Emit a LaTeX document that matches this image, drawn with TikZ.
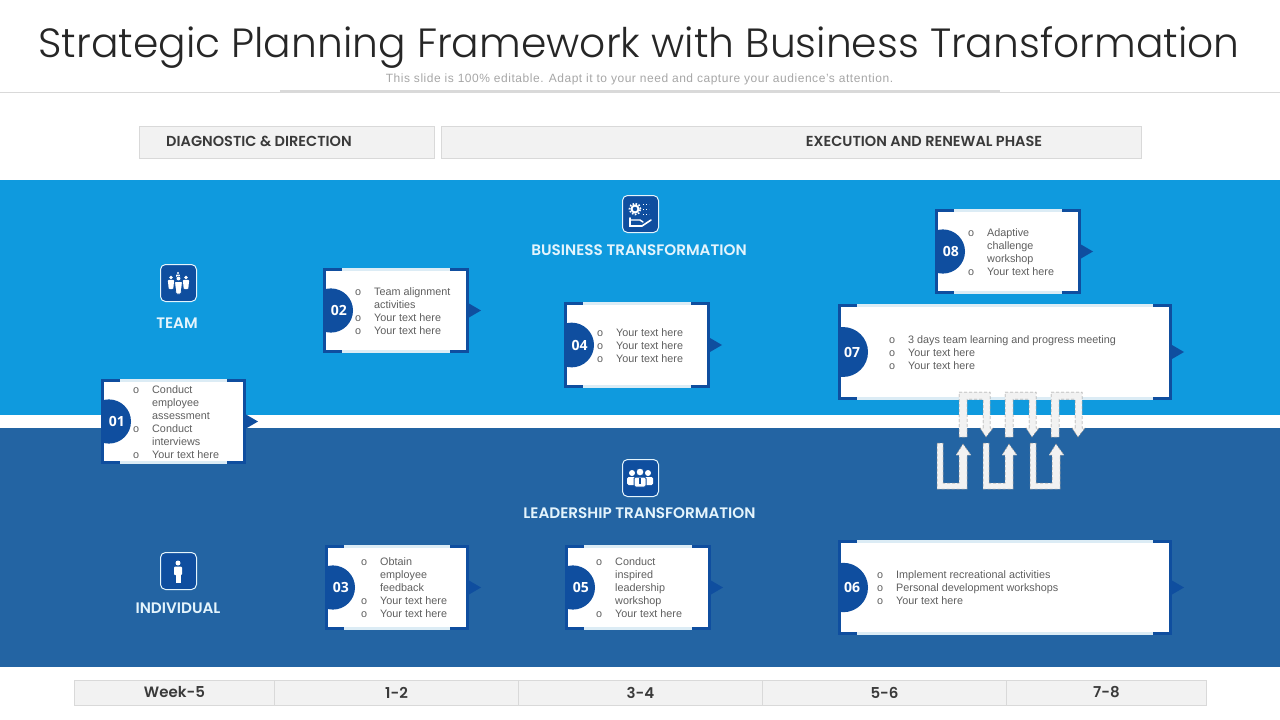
\documentclass[tikz,border=0pt]{standalone}
\usepackage{fontspec}
\setmainfont{Liberation Sans}
\newfontfamily\titlefont{Poppins Light}
\newfontfamily\headfont{Poppins SemiBold}
\newfontfamily\numfont{Open Sans}[BoldFont={* Bold}]
\definecolor{skyband}{HTML}{0F9ADE}
\definecolor{deepband}{HTML}{2364A3}
\definecolor{cardblue}{HTML}{0F4E9F}
\definecolor{cardedge}{HTML}{DCECF5}
\definecolor{paleface}{HTML}{F2F2F2}
\definecolor{paleline}{HTML}{D9D9D9}
\definecolor{inkgray}{HTML}{5F5F5F}
\definecolor{headink}{HTML}{3A3A3A}
\definecolor{bandtext}{HTML}{E4F4FC}
\newcommand{\itm}[1]{\makebox[19pt][l]{o}#1}
\newcommand{\cnt}[1]{\makebox[19pt][l]{}#1}
% one card: name, left, top, right, bottom, number, text x, text y, lines
\newcommand{\card}[9]{
	\pgfmathsetmacro{\cardr}{0.26*(#5-#3)}
	\node[card face, minimum width=#4pt-#2pt, minimum height=#5pt-#3pt] (box#1) at ({(#2+#4)/2},{(#3+#5)/2}) {};
	\begin{scope}
		\clip (#2,#3) rectangle (#4,#5);
		\fill[cardblue] ({#2+30-\cardr},{(#3+#5)/2}) circle (\cardr pt);
	\end{scope}
	\draw[card rim] (#2+19,#3+1.5) -- (#2+1.5,#3+1.5) -- (#2+1.5,#5-1.5) -- (#2+19,#5-1.5);
	\draw[card rim] (#4-19,#3+1.5) -- (#4-1.5,#3+1.5) -- (#4-1.5,#5-1.5) -- (#4-19,#5-1.5);
	\draw[card lip] (#2+19,#3+1.5) -- (#4-19,#3+1.5);
	\draw[card lip] (#2+19,#5-1.5) -- (#4-19,#5-1.5);
	\fill[cardblue] (#4,{(#3+#5)/2-7}) -- (#4+12,{(#3+#5)/2}) -- (#4,{(#3+#5)/2+7}) -- cycle;
	\node[card num] (num#1) at ({#2+30-\cardr*0.64},{(#3+#5)/2}) {#6};
	\node[card text] (text#1) at (#7-19,#8) {#9};
}
\newcommand{\iconbox}[3]{
	\node[icon face] (icon#1) at (#2,#3) {};
}
% small figure: x, y of the head, size
\newcommand{\smallman}[3]{
	\fill[white] (#1,#2) circle (#3*0.6pt);
	\fill[white, rounded corners=#3*0.25pt] (#1-#3,#2+#3*0.75) -- (#1+#3,#2+#3*0.75) -- (#1+#3*0.7,#2+#3*3.6) -- (#1-#3*0.7,#2+#3*3.6) -- cycle;
}
\newcommand{\upturn}[1]{
	\draw[turn arrow] (#1,443) -- (#1+6,443) -- (#1+6,483) -- (#1+22,483) -- (#1+22,455) -- (#1+19,455) -- (#1+26,444) -- (#1+34,455) -- (#1+30,455) -- (#1+30,489) -- (#1,489) -- cycle;
}
\newcommand{\downturn}[1]{
	\draw[turn arrow] (#1,437) -- (#1,392) -- (#1+31,392) -- (#1+31,428) -- (#1+34,428) -- (#1+27,437) -- (#1+21,428) -- (#1+24,428) -- (#1+24,399) -- (#1+8,399) -- (#1+8,437) -- cycle;
}
\tikzset{
	card face/.style={fill=white, draw=none, inner sep=0pt},
	card rim/.style={cardblue, line width=3pt},
	card lip/.style={cardedge, line width=3pt},
	card num/.style={text=white, inner sep=0pt, font=\numfont\bfseries\fontsize{14}{14}\selectfont},
	card text/.style={anchor=north west, align=left, inner sep=0pt, text=inkgray, font=\fontsize{10.8}{13}\selectfont},
	icon face/.style={fill=cardblue, draw=bandtext, line width=1pt, rounded corners=5pt, minimum width=36pt, minimum height=37pt, inner sep=0pt},
	band label/.style={text=bandtext, inner sep=0pt, font=\headfont\fontsize{15.2}{15}\selectfont},
	head box/.style={fill=paleface, draw=paleline, line width=0.8pt, inner sep=0pt, minimum height=32.5pt},
	head label/.style={text=headink, inner sep=0pt, font=\headfont\fontsize{14.5}{15}\selectfont},
	week cell/.style={fill=paleface, draw=paleline, line width=0.8pt, inner sep=0pt, minimum height=25pt, text=headink, font=\headfont\fontsize{15}{15}\selectfont},
	turn arrow/.style={fill=paleface, draw=gray!85, line width=0.5pt, densely dashed},
}
\begin{document}
\begin{tikzpicture}[x=1pt, y=-1pt]
	\useasboundingbox (0,0) rectangle (1280,720);
	\node[inner sep=0pt, text=black!85, font=\titlefont\fontsize{40.8}{41}\selectfont] (title) at (639,48) {Strategic Planning Framework with Business Transformation};
	\node[inner sep=0pt, text=gray!70, font=\addfontfeature{LetterSpace=4.5}\fontsize{12}{12}\selectfont] (subtitle) at (639.5,79) {This slide is 100\% editable. Adapt it to your need and capture your audience's attention.};
	\draw[paleline, line width=0.8pt] (0,92) -- (1280,92);
	\draw[paleline, line width=2.5pt] (280,91) -- (1000,91);

	\node[head box, minimum width=295.5pt] (diagbox) at (287,142.5) {};
	\node[head box, minimum width=700pt] (execbox) at (791,142.5) {};
	\node[head label, anchor=west] (diaglabel) at (166,141.5) {DIAGNOSTIC \& DIRECTION};
	\node[head label] (execlabel) at (924,141.5) {EXECUTION AND RENEWAL PHASE};

	\fill[skyband] (0,180) rectangle (1280,415);
	\fill[deepband] (0,428) rectangle (1280,667);

	\iconbox{team}{178.5}{283}
	\iconbox{biz}{640.5}{214}
	\iconbox{lead}{640.5}{478}
	\iconbox{solo}{178.5}{571}
	\node[band label] (teamlabel) at (177,323) {TEAM};
	\node[band label] (bizlabel) at (639,250) {BUSINESS TRANSFORMATION};
	\node[band label] (leadlabel) at (639.5,513) {LEADERSHIP TRANSFORMATION};
	\node[band label] (sololabel) at (178,608) {INDIVIDUAL};

	% team figures
	\smallman{178}{273}{2}
	\smallman{171}{277.5}{3.2}
	\smallman{186}{277.5}{3.2}
	\draw[cardblue, line width=0.8pt, fill=white, rounded corners=0.8pt] (174.5,281.5) -- (182.5,281.5) -- (181,294) -- (176,294) -- cycle;
	\draw[cardblue, line width=0.6pt, fill=white] (178.5,278.5) circle (2.4pt);
	% business figures
	\draw[white, line width=2pt] (635,209) circle (3.5pt);
	\draw[white, line width=1.6pt, dash pattern=on 1.6pt off 1.6pt] (635,209) circle (5.6pt);
	\draw[white, line width=1pt, dotted] (643,204) -- (649,204) (643,209) -- (649,209) (643,214) -- (649,214);
	\draw[white, line width=1.6pt, line cap=round] (630,218) -- (630,226) -- (642,226) -- (651,220);
	\draw[white, line width=1.4pt, line cap=round] (630,220) -- (640,220) -- (643,222);
	% leadership figures
	\fill[white] (632,473) circle (3pt);
	\fill[white] (648,473) circle (3pt);
	\fill[white, rounded corners=1.5pt] (627,477) rectangle (653,485);
	\draw[cardblue, line width=1pt, fill=white] (640,472) circle (4pt);
	\draw[cardblue, line width=1pt, fill=white, rounded corners=1.5pt] (634,477) rectangle (646,487);
	\draw[cardblue, line width=1.2pt] (640,478) -- (640,484);
	% individual figure
	\fill[white] (178,563) circle (2.5pt);
	\fill[white, rounded corners=1pt] (174,566.5) rectangle (182,575);
	\fill[white] (175.5,574) rectangle (180.5,583);

	\card{01}{101}{379}{246}{464}{01}{152}{385}{\itm{Conduct}\\\cnt{employee}\\\cnt{assessment}\\\itm{Conduct}\\\cnt{interviews}\\\itm{Your text here}}
	\card{02}{323}{268}{469}{353}{02}{374}{287}{\itm{Team alignment}\\\cnt{activities}\\\itm{Your text here}\\\itm{Your text here}}
	\card{03}{325}{545}{469}{630}{03}{380}{557}{\itm{Obtain}\\\cnt{employee}\\\cnt{feedback}\\\itm{Your text here}\\\itm{Your text here}}
	\card{04}{564}{302}{710}{388}{04}{616}{328}{\itm{Your text here}\\\itm{Your text here}\\\itm{Your text here}}
	\card{05}{565}{545}{711}{630}{05}{615}{557}{\itm{Conduct}\\\cnt{inspired}\\\cnt{leadership}\\\cnt{workshop}\\\itm{Your text here}}
	\card{06}{838}{540}{1172}{635}{06}{896}{570}{\itm{Implement recreational activities}\\\itm{Personal development workshops}\\\itm{Your text here}}
	\card{07}{838}{304}{1172}{400}{07}{908}{335}{\itm{3 days team learning and progress meeting}\\\itm{Your text here}\\\itm{Your text here}}
	\card{08}{935}{209}{1081}{294}{08}{987}{228}{\itm{Adaptive}\\\cnt{challenge}\\\cnt{workshop}\\\itm{Your text here}}

	\downturn{959}
	\downturn{1005}
	\downturn{1051}
	\upturn{937}
	\upturn{983}
	\upturn{1030}

	\node[week cell, minimum width=200pt] (week5) at (174.5,692.5) {Week-5};
	\node[week cell, minimum width=244pt] (week12) at (396.5,692.5) {1-2};
	\node[week cell, minimum width=244pt] (week34) at (640.5,692.5) {3-4};
	\node[week cell, minimum width=244pt] (week56) at (884.5,692.5) {5-6};
	\node[week cell, minimum width=200pt] (week78) at (1106.5,692.5) {7-8};
\end{tikzpicture}
\end{document}
